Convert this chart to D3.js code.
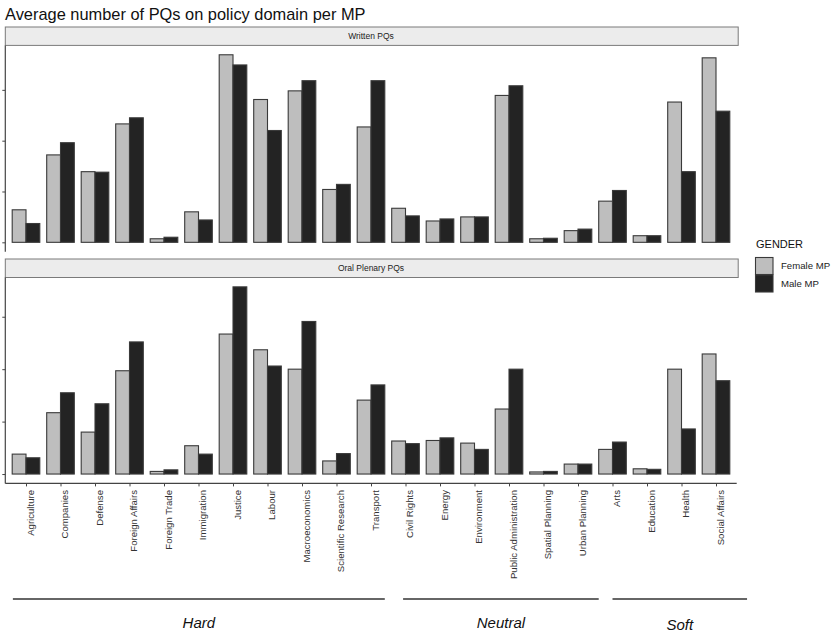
<!DOCTYPE html>
<html><head><meta charset="utf-8">
<script src="https://cdn.jsdelivr.net/npm/d3@7"></script>
<style>body{margin:0;background:#fff}svg{display:block;font-family:"Liberation Sans",Arial,sans-serif}</style>
</head><body><svg id="c" width="833" height="633"></svg>
<script>
const categories = ["Agriculture","Companies","Defense","Foreign Affairs","Foreign Trade","Immigration","Justice","Labour","Macroeconomics","Scientific Research","Transport","Civil Rights","Energy","Environment","Public Administration","Spatial Planning","Urban Planning","Arts","Education","Health","Social Affairs"];
const genders = ["Female MP","Male MP"];
const panels = ["Written PQs","Oral Plenary PQs"];
const writtenFemale = [0.64,1.72,1.39,2.33,0.07,0.60,3.69,2.81,2.98,1.04,2.27,0.67,0.42,0.50,2.89,0.07,0.23,0.81,0.13,2.76,3.63];
const writtenMale   = [0.37,1.96,1.38,2.45,0.10,0.44,3.49,2.20,3.18,1.14,3.18,0.52,0.46,0.50,3.08,0.08,0.26,1.02,0.13,1.39,2.58];
const oralFemale    = [0.38,1.17,0.80,1.97,0.05,0.54,2.67,2.37,2.00,0.25,1.41,0.63,0.64,0.59,1.24,0.04,0.19,0.47,0.10,2.00,2.29];
const oralMale      = [0.31,1.55,1.34,2.52,0.08,0.38,3.57,2.06,2.91,0.39,1.70,0.58,0.69,0.47,2.00,0.05,0.19,0.61,0.09,0.86,1.78];
const yTicks = [0,1,2,3];
const groups = ["Hard","Neutral","Soft"];
const groupFirst = ["Agriculture","Civil Rights","Arts"];
const groupLast = ["Transport","Urban Planning","Social Affairs"];
const title = "Average number of PQs on policy domain per MP";
const legendTitle = "GENDER";

const fills = {"Female MP":"#bebebe","Male MP":"#232323"};
const svg = d3.select("#c");
const left = 5.3, right = 736.7;
const x = d3.scalePoint().domain(categories).range([left,right]).padding(0.6);
const step = x.step();
const xg = d3.scaleBand().domain(genders).range([-0.4*step,0.4*step]);

svg.append("text").attr("x",5).attr("y",20).attr("font-size",16.4).attr("fill","#111").text(title);

const panelDefs = [
  {name:panels[0], f:writtenFemale, m:writtenMale, stripTop:27, top:45.4, bottom:251.7},
  {name:panels[1], f:oralFemale, m:oralMale, stripTop:259, top:277.5, bottom:483.4}
];
panelDefs.forEach((p,pi)=>{
  const mx = d3.max(p.f.concat(p.m));
  const e = 0.05*mx;
  const y = d3.scaleLinear().domain([-e,mx+e]).range([p.bottom,p.top]);
  const g = svg.append("g");
  g.append("rect").attr("x",left).attr("y",p.stripTop).attr("width",right-left+1.5).attr("height",p.top-p.stripTop)
    .attr("fill","#ececec").attr("stroke","#7a7a7a").attr("stroke-width",1);
  g.append("text").attr("x",(left+right)/2).attr("y",(p.stripTop+p.top)/2+3).attr("text-anchor","middle")
    .attr("font-size",8.5).attr("fill","#222").text(p.name);
  const rows = categories.map((c,i)=>({c, vals:[{g:"Female MP",v:p.f[i]},{g:"Male MP",v:p.m[i]}]}));
  const cg = g.selectAll("g.cat").data(rows).join("g").attr("transform",d=>`translate(${x(d.c)},0)`);
  cg.selectAll("rect").data(d=>d.vals).join("rect")
    .attr("x",d=>xg(d.g)).attr("width",xg.bandwidth())
    .attr("y",d=>y(d.v)).attr("height",d=>y(0)-y(d.v))
    .attr("fill",d=>fills[d.g]).attr("stroke","#3a3a3a").attr("stroke-width",1.1);
  const ya = g.append("g").attr("transform",`translate(${left},0)`)
    .call(d3.axisLeft(y).tickValues(yTicks).tickSize(3).tickFormat(""));
  ya.select(".domain").attr("d",`M0,${p.top}V${p.bottom}`).attr("stroke","#444").attr("stroke-width",1.2);
  ya.selectAll(".tick line").attr("stroke","#444");
  if(pi===1){
    const xa = g.append("g").attr("transform",`translate(0,${p.bottom})`)
      .call(d3.axisBottom(x).tickSize(3).tickFormat(""));
    xa.select(".domain").attr("d",`M${left},0H${right}`).attr("stroke","#444").attr("stroke-width",1.2);
    xa.selectAll(".tick line").attr("stroke","#444");
    g.selectAll("text.xl").data(categories).join("text").attr("class","xl")
      .attr("transform",d=>`translate(${x(d)+7.5},490) rotate(-90)`)
      .attr("text-anchor","end").attr("font-size",9.6).attr("fill","#333").text(d=>d);
  }
});

// group brackets (extents in step units, hand-drawn annotation)
const bracketPad = [[-0.38,0.4],[-0.07,0.6],[0,0.9]];
const labelY = [628,628,630];
groups.forEach((name,i)=>{
  const x1 = x(groupFirst[i])+bracketPad[i][0]*step, x2 = x(groupLast[i])+bracketPad[i][1]*step;
  svg.append("line").attr("x1",x1).attr("x2",x2).attr("y1",599).attr("y2",599).attr("stroke","#333").attr("stroke-width",1.5);
  svg.append("text").attr("x",(x1+x2)/2).attr("y",labelY[i]).attr("text-anchor","middle")
    .attr("font-size",15).attr("font-style","italic").attr("fill","#111").text(name);
});

// legend
const lg = svg.append("g");
lg.append("text").attr("x",756).attr("y",248).attr("font-size",11).attr("fill","#111").text(legendTitle);
genders.forEach((gn,i)=>{
  lg.append("rect").attr("x",755.5).attr("y",257.5+i*17.5).attr("width",17.5).attr("height",17)
    .attr("fill",fills[gn]).attr("stroke","#3a3a3a").attr("stroke-width",1.1);
  lg.append("text").attr("x",781).attr("y",269+i*17.5).attr("font-size",9.6).attr("fill","#222").text(gn);
});
</script></body></html>
